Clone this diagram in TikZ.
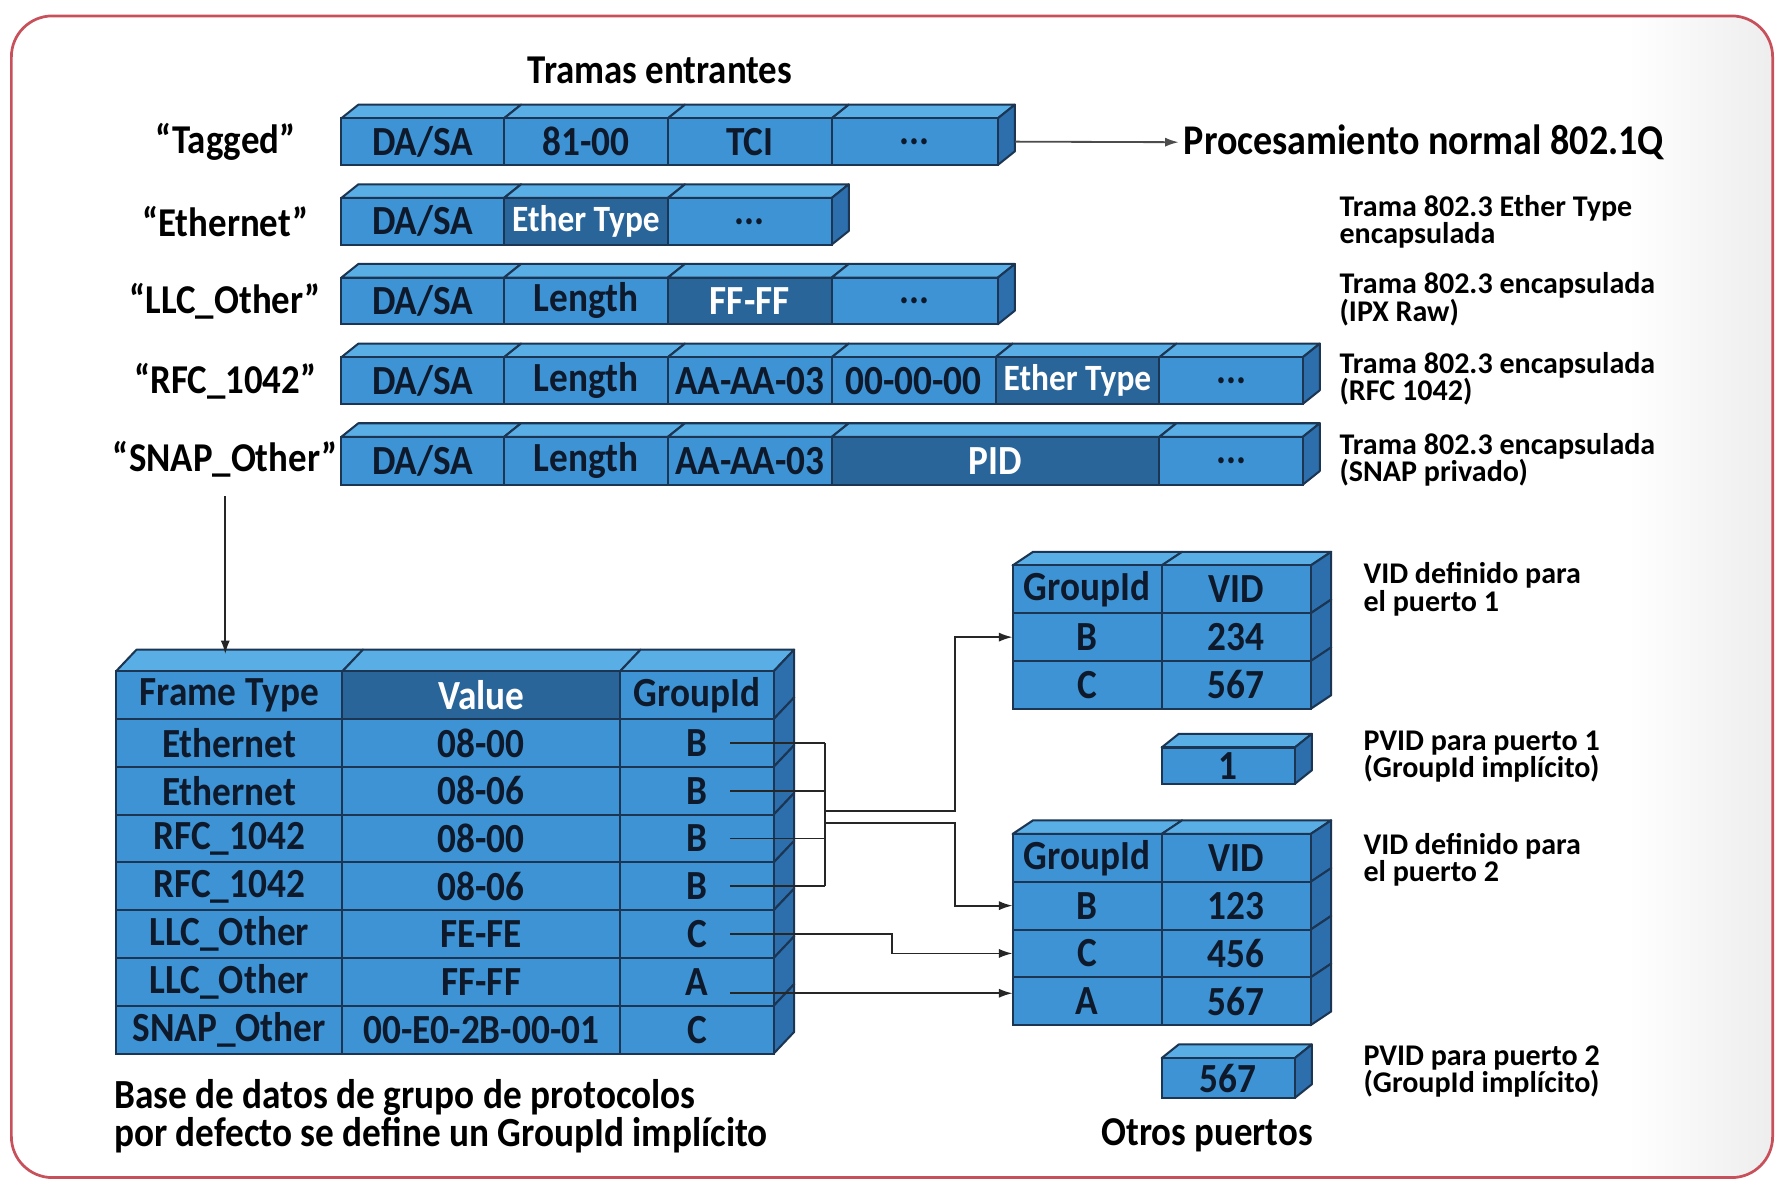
\documentclass[tikz,border=0pt]{standalone}
\usepackage{fontspec}
\setmainfont{Carlito}[FakeStretch=0.9]
\newfontfamily\notefam{Carlito}
\usetikzlibrary{arrows.meta}
\definecolor{cfront}{HTML}{3D93D3}
\definecolor{ctop}{HTML}{5AAEE6}
\definecolor{cside}{HTML}{2C6FAC}
\definecolor{cdark}{HTML}{2A6599}
\definecolor{cline}{HTML}{1B3553}
\definecolor{ctext}{HTML}{0E1A2B}
\definecolor{cborder}{HTML}{C8505A}
\newcommand\cellfont{\fontsize{18.2}{19}\selectfont\bfseries}
\newcommand\etfont{\fontsize{16.3}{19}\selectfont\bfseries}
\newcommand\lblfont{\fontsize{18}{19}\selectfont\bfseries}
\newcommand\notefont{\notefam\fontsize{13.2}{12}\selectfont\bfseries}
\newcommand\bigfont{\fontsize{18.6}{20}\selectfont\bfseries}
\newcommand\botfont{\fontsize{18.2}{15}\selectfont\bfseries}
\tikzset{
  cellbase/.style={draw=cline, line width=0.9pt, fill=cfront, inner sep=0pt, outer sep=0pt, font=\cellfont, text=ctext},
  darkc/.style={fill=cdark, text=white},
  etc/.style={fill=cdark, text=white, font=\etfont},
  topf/.style={draw=cline, line width=0.9pt, fill=ctop, line join=round},
  sidef/.style={draw=cline, line width=0.9pt, fill=cside, line join=round},
  conn/.style={draw=black!85, line width=0.8pt, -{Latex[length=6pt,width=4pt]}},
  busline/.style={draw=black!85, line width=0.8pt},
  lbl/.style={font=\lblfont, text=black, inner sep=2pt},
  note/.style={font=\notefont, text=black, align=left, anchor=west, inner sep=0pt},
}
% x1 x2 yt dx dy
\newcommand\topface[5]{\filldraw[topf] (#1,#3) -- ++(#4,-#5) -- (#2+#4,#3-#5) -- (#2,#3) -- cycle;}
% x yt yb dx dy
\newcommand\sideface[5]{\filldraw[sidef] (#1,#2) -- ++(#4,-#5) -- (#1+#4,#3-#5) -- (#1,#3) -- cycle;}
% name style x1 x2 yt yb text
\newcommand\cellnode[7]{\node[cellbase,#2,minimum width={(#4-#3)*0.5pt},minimum height={(#6-#5)*0.5pt},anchor=north west] (#1) at (#3,#5) {#7};}
\begin{document}
\begin{tikzpicture}[x=0.5pt,y=-0.5pt]
\useasboundingbox (0,0) rectangle (1568,1042);
% frame
\fill[white] (0,0) rectangle (1568,1042);
\begin{scope}
\clip[rounded corners=18pt] (10,14) rectangle (1558,1035);
\shade[left color=white,right color=black!7] (1430,0) rectangle (1560,1042);
\end{scope}
\draw[cborder, line width=1.2pt, rounded corners=18pt] (10,14) rectangle (1558,1035);

\node[lbl] (title) at (580,62) {Tramas entrantes};

% ---- Tagged
\topface{300}{443}{104}{15}{12}\topface{443}{587}{104}{15}{12}\topface{587}{731}{104}{15}{12}\topface{731}{877}{104}{15}{12}
\sideface{877}{104}{145}{15}{12}
\cellnode{tg1}{}{300}{443}{104}{145}{DA/SA}
\cellnode{tg2}{}{443}{587}{104}{145}{81-00}
\cellnode{tg3}{}{587}{731}{104}{145}{TCI}
\cellnode{tg4}{}{731}{877}{104}{145}{...}
\node[lbl] (ltag) at (198,125) {“Tagged”};
% ---- Ethernet
\topface{300}{443}{174}{15}{12}\topface{443}{587}{174}{15}{12}\topface{587}{731}{174}{15}{12}
\sideface{731}{174}{215}{15}{12}
\cellnode{et1}{}{300}{443}{174}{215}{DA/SA}
\cellnode{et2}{etc}{443}{587}{174}{215}{Ether Type}
\cellnode{et3}{}{587}{731}{174}{215}{...}
\node[lbl] (leth) at (198,195) {“Ethernet”};
% ---- LLC_Other
\topface{300}{443}{244}{15}{12}\topface{443}{587}{244}{15}{12}\topface{587}{731}{244}{15}{12}\topface{731}{877}{244}{15}{12}
\sideface{877}{244}{285}{15}{12}
\cellnode{ll1}{}{300}{443}{244}{285}{DA/SA}
\cellnode{ll2}{}{443}{587}{244}{285}{Length}
\cellnode{ll3}{darkc}{587}{731}{244}{285}{FF-FF}
\cellnode{ll4}{}{731}{877}{244}{285}{...}
\node[lbl] (lllc) at (198,265) {“LLC\_Other”};
% ---- RFC_1042
\topface{300}{443}{314}{15}{12}\topface{443}{587}{314}{15}{12}\topface{587}{731}{314}{15}{12}\topface{731}{875}{314}{15}{12}\topface{875}{1019}{314}{15}{12}\topface{1019}{1145}{314}{15}{12}
\sideface{1145}{314}{355}{15}{12}
\cellnode{rf1}{}{300}{443}{314}{355}{DA/SA}
\cellnode{rf2}{}{443}{587}{314}{355}{Length}
\cellnode{rf3}{}{587}{731}{314}{355}{AA-AA-03}
\cellnode{rf4}{}{731}{875}{314}{355}{00-00-00}
\cellnode{rf5}{etc}{875}{1019}{314}{355}{Ether Type}
\cellnode{rf6}{}{1019}{1145}{314}{355}{...}
\node[lbl] (lrfc) at (198,335) {“RFC\_1042”};
% ---- SNAP_Other
\topface{300}{443}{384}{15}{12}\topface{443}{587}{384}{15}{12}\topface{587}{731}{384}{15}{12}\topface{731}{1019}{384}{15}{12}\topface{1019}{1145}{384}{15}{12}
\sideface{1145}{384}{426}{15}{12}
\cellnode{sn1}{}{300}{443}{384}{426}{DA/SA}
\cellnode{sn2}{}{443}{587}{384}{426}{Length}
\cellnode{sn3}{}{587}{731}{384}{426}{AA-AA-03}
\cellnode{sn4}{darkc}{731}{1019}{384}{426}{PID}
\cellnode{sn5}{}{1019}{1145}{384}{426}{...}
\node[lbl] (lsnap) at (198,404) {“SNAP\_Other”};

% arrow to processing
\node[lbl, anchor=west, font=\bigfont] (proc) at (1036,125) {Procesamiento normal 802.1Q};
\draw[conn, draw=black!70] ([xshift=7.5pt]tg4.east) -- (proc.west);

% notes
\node[note] (n1) at (1177,195) {Trama 802.3 Ether Type\\encapsulada};
\node[note] (n2) at (1177,263) {Trama 802.3 encapsulada\\(IPX Raw)};
\node[note] (n3) at (1177,333) {Trama 802.3 encapsulada\\(RFC 1042)};
\node[note] (n4) at (1177,404) {Trama 802.3 encapsulada\\(SNAP privado)};

% ---- protocol table
\topface{102}{301}{590}{18}{19}\topface{301}{545}{590}{18}{19}\topface{545}{680}{590}{18}{19}
\sideface{680}{590}{632}{18}{19}\sideface{680}{632}{674}{18}{19}\sideface{680}{674}{716}{18}{19}
\sideface{680}{716}{758}{18}{19}\sideface{680}{758}{800}{18}{19}\sideface{680}{800}{842}{18}{19}
\sideface{680}{842}{884}{18}{19}\sideface{680}{884}{926}{18}{19}
\cellnode{h1}{}{102}{301}{590}{632}{Frame Type}
\cellnode{h2}{darkc}{301}{545}{590}{632}{Value}
\cellnode{h3}{}{545}{680}{590}{632}{GroupId}
\cellnode{a1}{}{102}{301}{632}{674}{Ethernet}
\cellnode{b1}{}{301}{545}{632}{674}{08-00}
\cellnode{g1}{}{545}{680}{632}{674}{B}
\cellnode{a2}{}{102}{301}{674}{716}{Ethernet}
\cellnode{b2}{}{301}{545}{674}{716}{08-06}
\cellnode{g2}{}{545}{680}{674}{716}{B}
\cellnode{a3}{}{102}{301}{716}{758}{RFC\_1042}
\cellnode{b3}{}{301}{545}{716}{758}{08-00}
\cellnode{g3}{}{545}{680}{716}{758}{B}
\cellnode{a4}{}{102}{301}{758}{800}{RFC\_1042}
\cellnode{b4}{}{301}{545}{758}{800}{08-06}
\cellnode{g4}{}{545}{680}{758}{800}{B}
\cellnode{a5}{}{102}{301}{800}{842}{LLC\_Other}
\cellnode{b5}{}{301}{545}{800}{842}{FE-FE}
\cellnode{g5}{}{545}{680}{800}{842}{C}
\cellnode{a6}{}{102}{301}{842}{884}{LLC\_Other}
\cellnode{b6}{}{301}{545}{842}{884}{FF-FF}
\cellnode{g6}{}{545}{680}{842}{884}{A}
\cellnode{a7}{}{102}{301}{884}{926}{SNAP\_Other}
\cellnode{b7}{}{301}{545}{884}{926}{00-E0-2B-00-01}
\cellnode{g7}{}{545}{680}{884}{926}{C}

% arrow from SNAP label to table
\draw[conn] ([yshift=-6pt]lsnap.south) -- ([yshift=7.5pt]lsnap.south |- h1.north);

% ---- port 1 table
\topface{890}{1021}{497}{18}{12}\topface{1021}{1152}{497}{18}{12}
\sideface{1152}{497}{539}{18}{12}\sideface{1152}{539}{581}{18}{12}\sideface{1152}{581}{623}{18}{12}
\cellnode{p1h1}{}{890}{1021}{497}{539}{GroupId}
\cellnode{p1h2}{}{1021}{1152}{497}{539}{VID}
\cellnode{p1b}{}{890}{1021}{539}{581}{B}
\cellnode{p1bv}{}{1021}{1152}{539}{581}{234}
\cellnode{p1c}{}{890}{1021}{581}{623}{C}
\cellnode{p1cv}{}{1021}{1152}{581}{623}{567}
% pvid 1
\topface{1021}{1138}{657}{15}{12}\sideface{1138}{657}{689}{15}{12}
\cellnode{pv1}{}{1021}{1138}{657}{689}{1}
% ---- port 2 table
\topface{890}{1021}{733}{18}{12}\topface{1021}{1152}{733}{18}{12}
\sideface{1152}{733}{775}{18}{12}\sideface{1152}{775}{817}{18}{12}\sideface{1152}{817}{859}{18}{12}\sideface{1152}{859}{901}{18}{12}
\cellnode{p2h1}{}{890}{1021}{733}{775}{GroupId}
\cellnode{p2h2}{}{1021}{1152}{733}{775}{VID}
\cellnode{p2b}{}{890}{1021}{775}{817}{B}
\cellnode{p2bv}{}{1021}{1152}{775}{817}{123}
\cellnode{p2c}{}{890}{1021}{817}{859}{C}
\cellnode{p2cv}{}{1021}{1152}{817}{859}{456}
\cellnode{p2a}{}{890}{1021}{859}{901}{A}
\cellnode{p2av}{}{1021}{1152}{859}{901}{567}
% pvid 2
\topface{1021}{1138}{930}{15}{12}\sideface{1138}{930}{965}{15}{12}
\cellnode{pv2}{}{1021}{1138}{930}{965}{567}

% right notes
\node[note] (n5) at (1198,518) {VID definido para\\el puerto 1};
\node[note] (n6) at (1198,665) {PVID para puerto 1\\(GroupId implícito)};
\node[note] (n7) at (1198,756) {VID definido para\\el puerto 2};
\node[note] (n8) at (1198,942) {PVID para puerto 2\\(GroupId implícito)};

% bottom texts
\node[note, font=\botfont] (base) at (100,981) {Base de datos de grupo de protocolos\\por defecto se define un GroupId implícito};
\node[lbl] (otros) at (1061,998) {Otros puertos};

% ---- connectors
\coordinate (s1) at ([xshift=14.5pt]g1.center);
\coordinate (s2) at ([xshift=14.5pt]g2.center);
\coordinate (s3) at ([xshift=14.5pt]g3.center);
\coordinate (s4) at ([xshift=14.5pt]g4.center);
\coordinate (s5) at ([xshift=14.5pt]g5.center);
\coordinate (s6) at ([xshift=14.5pt,yshift=-5pt]g6.center);
\coordinate (busx) at (725,700);
\coordinate (bu) at (725,713);
\coordinate (bl) at (725,723);
\coordinate (jx) at (839,700);
\coordinate (jc) at (784,830);
\draw[busline] (s1) -- (s1 -| busx);
\draw[busline] (s2) -- (s2 -| busx);
\draw[busline] (s3) -- (s3 -| busx);
\draw[busline] (s4) -- (s4 -| busx);
\draw[busline] (s1 -| busx) -- (s4 -| busx);
\draw[conn] (bu) -- (bu -| jx) -- (jx |- p1b.west) -- (p1b.west);
\draw[conn] (bl) -- (bl -| jx) -- (jx |- p2b.west) -- (p2b.west);
\draw[conn] (s5) -- (s5 -| jc) -- (jc |- p2c.west) -- (p2c.west);
\draw[conn] (s6) -- (s6 -| p2a.west);
\end{tikzpicture}
\end{document}
